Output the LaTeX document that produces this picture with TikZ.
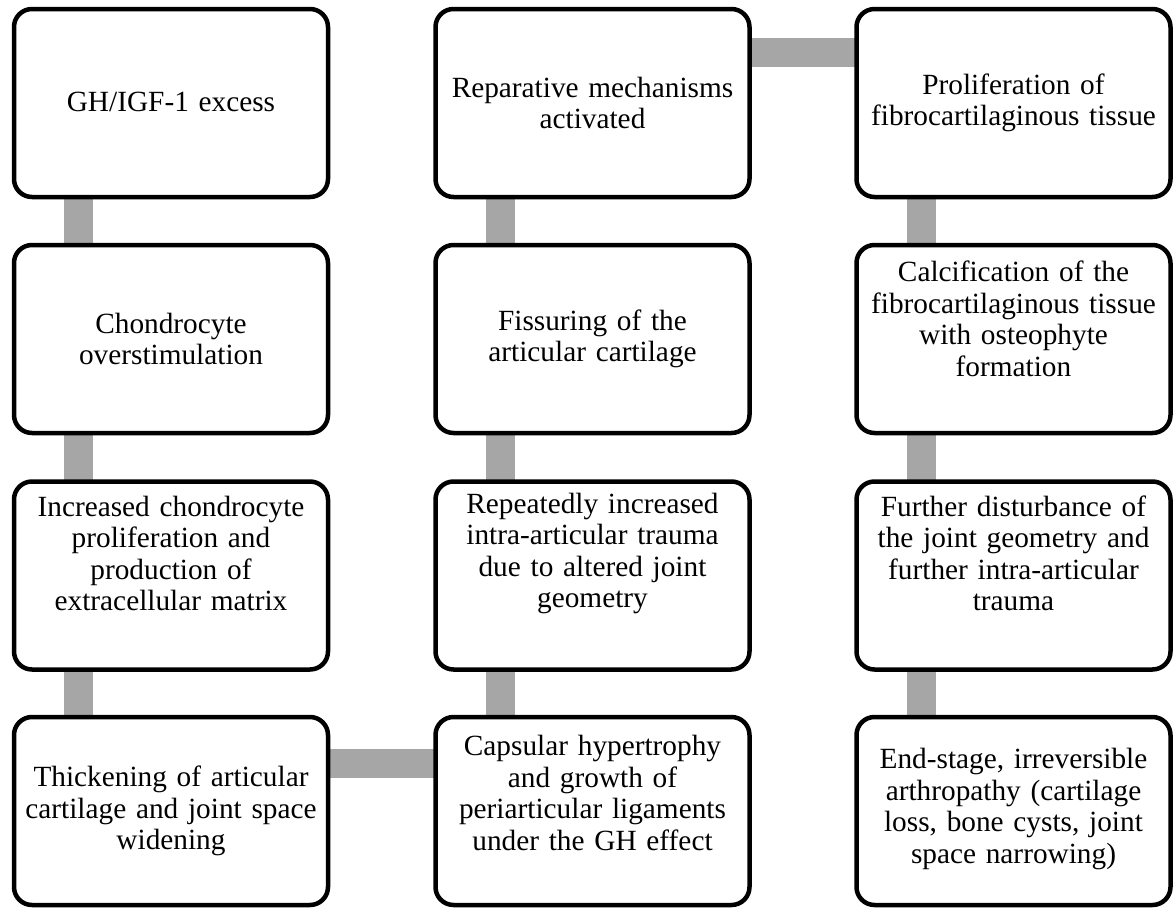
\documentclass[tikz,border=0pt]{standalone}
\usepackage{fontspec}
\setmainfont{Liberation Serif}
\usetikzlibrary{backgrounds}
\definecolor{bargray}{RGB}{166,166,166}
\tikzset{
  box/.style={draw=black, line width=4.5pt, rounded corners=18pt, fill=white,
    minimum width=314pt, minimum height=188pt, inner sep=0pt, outer sep=0pt},
  txt/.style={inner sep=0pt, text width=320pt, align=center,
    font=\fontsize{29.3}{31.5}\selectfont},
  bar/.style={draw=bargray, line width=29pt}
}
\begin{document}
\begin{tikzpicture}[x=1pt,y=-1pt]
\useasboundingbox (0,0) rectangle (1176,908);
% boxes
\node[box] (a1) at (171,103) {};
\node[box] (a2) at (171,339) {};
\node[box] (a3) at (171,575.5) {};
\node[box] (a4) at (171,811) {};
\node[box] (b1) at (592.5,103) {};
\node[box] (b2) at (592.5,339) {};
\node[box] (b3) at (592.5,575.5) {};
\node[box] (b4) at (592.5,811) {};
\node[box] (c1) at (1013.5,103) {};
\node[box] (c2) at (1013.5,339) {};
\node[box] (c3) at (1013.5,575.5) {};
\node[box] (c4) at (1013.5,811) {};
% texts
\node[txt] (ta1) at ([yshift=1pt]a1.center) {GH/IGF-1 excess};
\node[txt] (ta2) at (a2.center) {Chondrocyte\\overstimulation};
\node[txt] (ta3) at ([yshift=22pt]a3.center) {Increased chondrocyte\\proliferation and\\production of\\extracellular matrix};
\node[txt] (ta4) at (a4.center) {Thickening of articular\\cartilage and joint space\\widening};
\node[txt] (tb1) at (b1.center) {Reparative mechanisms\\activated};
\node[txt] (tb2) at (b2.center) {Fissuring of the\\articular cartilage};
\node[txt] (tb3) at ([yshift=22pt]b3.center) {Repeatedly increased\\intra-articular trauma\\due to altered joint\\geometry};
\node[txt] (tb4) at ([yshift=18pt]b4.center) {Capsular hypertrophy\\and growth of\\periarticular ligaments\\under the GH effect};
\node[txt] (tc1) at (c1.center) {Proliferation of\\fibrocartilaginous tissue};
\node[txt] (tc2) at ([yshift=20pt]c2.center) {Calcification of the\\fibrocartilaginous tissue\\with osteophyte\\formation};
\node[txt] (tc3) at ([yshift=22pt]c3.center) {Further disturbance of\\the joint geometry and\\further intra-articular\\trauma};
\node[txt] (tc4) at ([yshift=2pt]c4.center) {End-stage, irreversible\\arthropathy (cartilage\\loss, bone cysts, joint\\space narrowing)};
% connector reference points
\coordinate (xa) at ([xshift=64.5pt]a1.west);
\coordinate (xb) at ([xshift=64.5pt]b1.west);
\coordinate (xc) at ([xshift=64.5pt]c1.west);
\coordinate (ytop) at ([yshift=-43.5pt]b1.north);
\coordinate (ybot) at ([yshift=-46.5pt]a4.north);
\begin{scope}[on background layer]
\draw[bar] (a1.center -| xa) -- (a2.center -| xa);
\draw[bar] (a2.center -| xa) -- (a3.center -| xa);
\draw[bar] (a3.center -| xa) -- (a4.center -| xa);
\draw[bar] (a4.center |- ybot) -- (b4.center |- ybot);
\draw[bar] (b4.center -| xb) -- (b3.center -| xb);
\draw[bar] (b3.center -| xb) -- (b2.center -| xb);
\draw[bar] (b2.center -| xb) -- (b1.center -| xb);
\draw[bar] (b1.center |- ytop) -- (c1.center |- ytop);
\draw[bar] (c1.center -| xc) -- (c2.center -| xc);
\draw[bar] (c2.center -| xc) -- (c3.center -| xc);
\draw[bar] (c3.center -| xc) -- (c4.center -| xc);
\end{scope}
\end{tikzpicture}
\end{document}
